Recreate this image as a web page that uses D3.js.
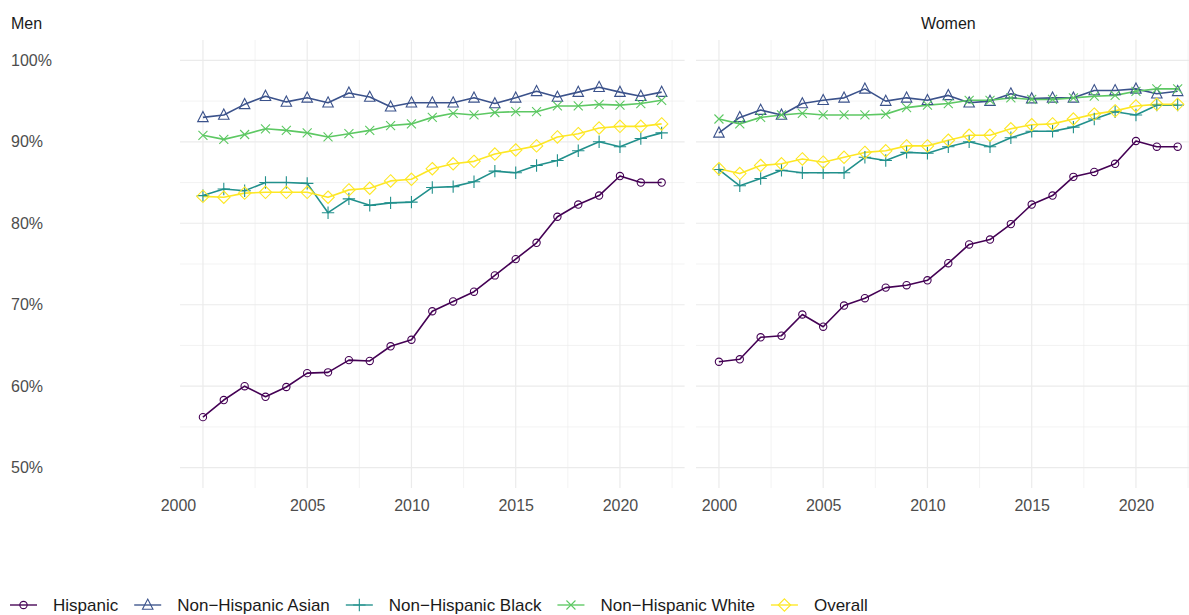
<!DOCTYPE html>
<html>
<head>
<meta charset="utf-8">
<script src="https://cdn.jsdelivr.net/npm/d3@7"></script>
<style>
  html, body { margin: 0; padding: 0; background: #ffffff; }
  svg { display: block; font-family: "Liberation Sans", Arial, sans-serif; }
</style>
</head>
<body>
<svg id="chart" width="1189" height="615"></svg>
<script>
// ---------- data ----------
const years = [2000,2001,2002,2003,2004,2005,2006,2007,2008,2009,2010,2011,2012,2013,2014,2015,2016,2017,2018,2019,2020,2021,2022];
const seriesNames = ["Hispanic", "Non\u2212Hispanic Asian", "Non\u2212Hispanic Black", "Non\u2212Hispanic White", "Overall"];
const panelNames = ["Men", "Women"];
const xTicks = [2000, 2005, 2010, 2015, 2020];
const xMinor = [2002.5, 2007.5, 2012.5, 2017.5, 2022.5];
const yTicks = [50, 60, 70, 80, 90, 100];
const yMinor = [55, 65, 75, 85, 95];

const menHispanic = [56.2,58.3,60.0,58.7,59.9,61.6,61.7,63.2,63.1,64.9,65.7,69.2,70.4,71.6,73.6,75.6,77.6,80.8,82.3,83.4,85.8,85.0,85.0];
const menAsian    = [93.0,93.3,94.6,95.6,94.9,95.4,94.8,96.0,95.5,94.3,94.8,94.8,94.8,95.4,94.7,95.4,96.2,95.5,96.1,96.7,96.1,95.6,96.1];
const menBlack    = [83.4,84.2,84.0,85.0,85.0,84.9,81.3,83.0,82.2,82.5,82.6,84.4,84.5,85.1,86.4,86.2,87.1,87.7,88.9,90.0,89.4,90.4,91.1];
const menWhite    = [90.8,90.3,90.9,91.6,91.4,91.1,90.6,91.0,91.4,92.0,92.2,93.0,93.5,93.3,93.6,93.7,93.7,94.4,94.4,94.6,94.5,94.7,95.1];
const menOverall  = [83.3,83.2,83.7,83.8,83.8,83.8,83.2,84.1,84.3,85.2,85.4,86.7,87.3,87.6,88.5,89.0,89.5,90.6,91.0,91.7,91.9,91.9,92.2];

const womenHispanic = [63.0,63.3,66.0,66.2,68.8,67.3,69.9,70.8,72.1,72.4,73.0,75.1,77.4,78.0,79.9,82.3,83.4,85.7,86.3,87.3,90.1,89.4,89.4];
const womenAsian    = [91.1,93.0,93.9,93.3,94.7,95.1,95.4,96.5,95.0,95.4,95.1,95.7,94.8,95.0,95.9,95.3,95.4,95.4,96.3,96.3,96.5,95.9,96.2];
const womenBlack    = [86.6,84.6,85.5,86.5,86.2,86.2,86.2,88.1,87.7,88.7,88.6,89.4,90.0,89.4,90.5,91.3,91.3,91.8,92.8,93.7,93.3,94.5,94.5];
const womenWhite    = [92.8,92.2,93.0,93.3,93.5,93.3,93.3,93.3,93.4,94.2,94.5,94.7,95.1,95.1,95.4,95.2,95.2,95.4,95.6,95.7,96.2,96.5,96.5];
const womenOverall  = [86.7,86.1,87.1,87.3,87.9,87.5,88.1,88.7,88.9,89.5,89.5,90.2,90.8,90.8,91.6,92.1,92.2,92.8,93.4,93.8,94.4,94.6,94.6];

const panelSeries = [
  [menHispanic, menAsian, menBlack, menWhite, menOverall],
  [womenHispanic, womenAsian, womenBlack, womenWhite, womenOverall]
];

// ---------- styles ----------
const colors = ["#440154", "#3B528B", "#21908C", "#5DC863", "#FDE725"];
const shapes = ["circle", "triangle", "plus", "cross", "diamond"];
const gridColor = "#EBEBEB";
const tickColor = "#4D4D4D";
const textColor = "#1A1A1A";
const fontSize = 16;
const legendFontSize = 17;

const svg = d3.select("#chart");

// ---------- layout ----------
const plotTop = 40, plotBottom = 488;
const panels = [
  { x0: 180, x1: 684.6, title: panelNames[0], titleX: 11, titleAnchor: "start", firstLabelDx: -25 },
  { x0: 696, x1: 1200.6, title: panelNames[1], titleX: null, titleAnchor: "middle", firstLabelDx: 0 }
];

const y = d3.scaleLinear().domain([47.5, 102.5]).range([plotBottom, plotTop]);

function markerPath(shape, s) {
  switch (shape) {
    case "circle":
      return d3.symbol(d3.symbolCircle, 42)();
    case "triangle": {
      const h = s * 0.95, w = s * 1.05;
      return `M0,${-h * 0.62}L${w / 2},${h * 0.45}L${-w / 2},${h * 0.45}Z`;
    }
    case "plus":
      return `M${-s * 0.62},0H${s * 0.62}M0,${-s * 0.62}V${s * 0.62}`;
    case "cross":
      return `M${-s * 0.45},${-s * 0.45}L${s * 0.45},${s * 0.45}M${-s * 0.45},${s * 0.45}L${s * 0.45},${-s * 0.45}`;
    case "diamond":
      return `M0,${-s * 0.62}L${s * 0.62},0L0,${s * 0.62}L${-s * 0.62},0Z`;
  }
}

panels.forEach((p, pi) => {
  const x = d3.scaleLinear().domain([1998.9, 2023.1]).range([p.x0, p.x1]);
  const g = svg.append("g").attr("class", "panel-" + pi);

  // minor grid
  g.append("g").selectAll("line.hminor").data(yMinor).join("line")
    .attr("x1", p.x0).attr("x2", p.x1)
    .attr("y1", d => y(d)).attr("y2", d => y(d))
    .attr("stroke", gridColor).attr("stroke-width", 0.6);
  g.append("g").selectAll("line.vminor").data(xMinor).join("line")
    .attr("x1", d => x(d)).attr("x2", d => x(d))
    .attr("y1", plotTop).attr("y2", plotBottom)
    .attr("stroke", gridColor).attr("stroke-width", 0.6);
  // major grid
  g.append("g").selectAll("line.hmajor").data(yTicks).join("line")
    .attr("x1", p.x0).attr("x2", p.x1)
    .attr("y1", d => y(d)).attr("y2", d => y(d))
    .attr("stroke", gridColor).attr("stroke-width", 1.2);
  g.append("g").selectAll("line.vmajor").data(xTicks).join("line")
    .attr("x1", d => x(d)).attr("x2", d => x(d))
    .attr("y1", plotTop).attr("y2", plotBottom)
    .attr("stroke", gridColor).attr("stroke-width", 1.2);

  // x axis labels
  const xAxis = d3.axisBottom(x).tickValues(xTicks).tickSize(0).tickPadding(0).tickFormat(d3.format("d"));
  const xg = g.append("g").attr("transform", `translate(0,${plotBottom})`).call(xAxis);
  xg.select(".domain").remove();
  xg.selectAll("text")
    .attr("y", 23).attr("dy", 0)
    .attr("fill", tickColor)
    .style("font-size", fontSize + "px")
    .style("font-family", '"Liberation Sans", Arial, sans-serif')
    .attr("dx", (d, i) => i === 0 ? p.firstLabelDx : 0);

  // panel title
  g.append("text")
    .attr("x", p.titleX !== null ? p.titleX : (p.x0 + p.x1) / 2)
    .attr("y", 29)
    .attr("text-anchor", p.titleAnchor)
    .attr("fill", textColor)
    .style("font-size", fontSize + "px")
    .text(p.title);

  // lines
  const line = d3.line().x((d, i) => x(years[i])).y(d => y(d));
  panelSeries[pi].forEach((vals, si) => {
    g.append("path").datum(vals)
      .attr("d", line)
      .attr("fill", "none")
      .attr("stroke", colors[si])
      .attr("stroke-width", 1.6)
      .attr("stroke-linejoin", "round");
  });
  // points
  panelSeries[pi].forEach((vals, si) => {
    g.append("g").selectAll("path").data(vals).join("path")
      .attr("transform", (d, i) => `translate(${x(years[i])},${y(d)})`)
      .attr("d", markerPath(shapes[si], 10))
      .attr("fill", "none")
      .attr("stroke", colors[si])
      .attr("stroke-width", 1.1);
  });
});

// y axis labels (left-aligned)
const yAxis = d3.axisLeft(y).tickValues(yTicks).tickSize(0).tickPadding(0).tickFormat(d => d + "%");
const yg = svg.append("g").attr("transform", "translate(11,0)").call(yAxis);
yg.select(".domain").remove();
yg.selectAll("text")
  .attr("x", 0)
  .attr("text-anchor", "start")
  .attr("fill", tickColor)
  .style("font-size", fontSize + "px")
  .style("font-family", '"Liberation Sans", Arial, sans-serif');

// legend
const legend = svg.append("g").attr("class", "legend").attr("transform", "translate(10,605)");
let cursor = 0;
seriesNames.forEach((name, si) => {
  const item = legend.append("g").attr("transform", `translate(${cursor},0)`);
  item.append("line").attr("x1", 0).attr("x2", 27).attr("y1", 0).attr("y2", 0)
    .attr("stroke", colors[si]).attr("stroke-width", 1.6).attr("stroke-opacity", 0.85);
  item.append("path").attr("transform", "translate(13.5,0)")
    .attr("d", markerPath(shapes[si], 10))
    .attr("fill", "none").attr("stroke", colors[si]).attr("stroke-width", 1.1);
  const t = item.append("text").attr("x", 43).attr("y", 0).attr("dy", "0.36em")
    .attr("fill", textColor).style("font-size", legendFontSize + "px").text(name);
  cursor += 43 + t.node().getComputedTextLength() + 16;
});
</script>
</body>
</html>
